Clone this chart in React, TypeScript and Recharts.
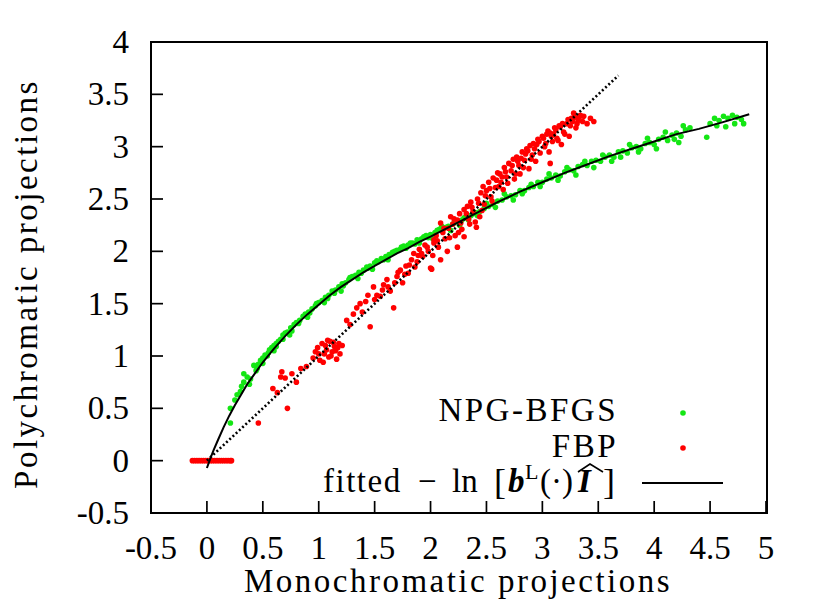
import React from 'react';
import { ScatterChart, Scatter, XAxis, YAxis } from 'recharts';

// axis ticks
const xTicks = [-0.5, 0, 0.5, 1, 1.5, 2, 2.5, 3, 3.5, 4, 4.5, 5];
const yTicks = [-0.5, 0, 0.5, 1, 1.5, 2, 2.5, 3, 3.5, 4];

// NPG-BFGS reconstruction (green)
const npgX = [
  0.21, 0.21, 0.25, 0.27, 0.30, 0.31, 0.33, 0.33, 0.36, 0.38, 0.39, 0.42, 0.44, 0.46, 0.48, 0.50, 0.52, 0.54, 0.56, 0.58,
  0.60, 0.62, 0.64, 0.66, 0.68, 0.70, 0.72, 0.75, 0.78, 0.80, 0.83, 0.86, 0.88, 0.91, 0.94, 0.97, 1.00, 1.03, 1.06, 1.09,
  1.12, 1.15, 1.18, 1.21, 1.24, 1.27, 1.30, 1.33, 1.36, 1.40, 1.43, 1.46, 1.50, 1.53, 1.56, 1.60, 1.63, 1.66, 1.70, 1.73,
  1.76, 1.80, 1.84, 1.88, 1.92, 1.96, 2.00, 2.04, 2.08, 2.12, 2.16, 2.20, 2.24, 2.28, 2.32, 2.36, 2.40, 2.44, 2.48, 2.52,
  2.56, 2.60, 2.64, 2.68, 2.72, 2.76, 2.80, 2.84, 2.88, 2.92, 2.96, 3.00, 3.04, 3.08, 3.12, 3.16, 3.20, 3.24, 3.28, 3.32,
  3.36, 3.40, 3.44, 3.48, 3.52, 3.56, 3.60, 3.64, 3.68, 3.72, 3.76, 3.80, 3.84, 3.88, 3.92, 3.96, 4.00, 4.04, 4.08, 4.12,
  4.16, 4.20, 4.24, 4.28, 4.32, 4.47, 4.50, 4.54, 4.58, 4.62, 4.66, 4.70, 4.74, 4.78, 4.56, 4.64, 4.72, 4.80,
  2.02, 2.10, 2.18, 2.26, 2.34, 2.42, 2.50, 2.58, 2.66, 2.74, 2.82, 2.90, 2.98, 3.06, 3.14, 3.22, 3.30, 3.38, 3.46, 3.54,
  3.62, 3.70, 3.78, 3.86, 3.94, 4.02, 4.10, 4.18, 4.26, 4.22, 0.60, 0.74, 0.90, 1.05, 1.20, 1.35, 1.48, 1.62, 1.78, 1.90,
  0.45, 0.50, 0.55, 0.62, 0.68, 0.76, 0.82, 0.92, 0.98, 1.08, 1.14, 1.22, 1.28, 1.38, 1.44, 1.52, 1.58, 1.68, 1.74, 1.82,
  1.86, 1.94, 1.98, 2.06, 2.14, 2.22, 2.30, 2.38,
];
const npgY = [
  0.36, 0.50, 0.58, 0.63, 0.66, 0.71, 0.75, 0.83, 0.80, 0.73, 0.78, 0.91, 0.86, 0.92, 0.96, 0.98, 1.01, 1.00, 1.06, 1.08,
  1.10, 1.12, 1.14, 1.16, 1.20, 1.22, 1.23, 1.27, 1.30, 1.32, 1.34, 1.38, 1.40, 1.42, 1.45, 1.48, 1.51, 1.53, 1.56, 1.58,
  1.62, 1.63, 1.66, 1.69, 1.70, 1.73, 1.76, 1.77, 1.80, 1.82, 1.85, 1.86, 1.89, 1.90, 1.93, 1.95, 1.97, 1.99, 2.01, 2.02,
  2.05, 2.06, 2.08, 2.11, 2.12, 2.15, 2.16, 2.18, 2.21, 2.22, 2.24, 2.26, 2.29, 2.30, 2.33, 2.34, 2.37, 2.38, 2.41, 2.43,
  2.45, 2.48, 2.49, 2.52, 2.53, 2.54, 2.58, 2.58, 2.61, 2.62, 2.66, 2.66, 2.69, 2.70, 2.73, 2.72, 2.76, 2.78, 2.77, 2.81,
  2.83, 2.82, 2.86, 2.87, 2.86, 2.90, 2.92, 2.90, 2.95, 2.96, 2.94, 2.99, 3.00, 2.98, 3.03, 3.04, 3.02, 3.07, 3.09, 3.06,
  3.11, 3.13, 3.10, 3.16, 3.18, 3.09, 3.22, 3.27, 3.25, 3.29, 3.27, 3.30, 3.28, 3.26, 3.20, 3.19, 3.22, 3.22,
  2.12, 2.24, 2.20, 2.25, 2.30, 2.34, 2.46, 2.42, 2.55, 2.49, 2.55, 2.64, 2.62, 2.74, 2.68, 2.80, 2.73, 2.86, 2.80, 2.92,
  2.86, 2.90, 3.02, 2.95, 3.08, 2.98, 3.14, 3.07, 3.20, 3.04, 1.05, 1.20, 1.37, 1.51, 1.62, 1.74, 1.83, 1.92, 2.03, 2.08,
  0.88, 0.93, 1.03, 1.09, 1.16, 1.24, 1.31, 1.41, 1.50, 1.55, 1.60, 1.67, 1.75, 1.79, 1.84, 1.91, 1.92, 2.00, 2.04, 2.08,
  2.07, 2.14, 2.13, 2.20, 2.23, 2.28, 2.32, 2.36,
];

// FBP reconstruction (red)
const fbpX = [
  -0.13, -0.11, -0.09, -0.07, -0.05, -0.03, -0.01, 0.01, 0.03, 0.05, 0.07, 0.09, 0.11, 0.13, 0.15, 0.17, 0.19, 0.21, 0.22,
  0.46, 0.72, 0.59, 0.63, 0.66, 0.67, 0.70, 0.76, 0.80, 0.84, 0.89, 0.95, 0.97, 0.99, 1.01, 1.03, 1.05, 1.07, 1.09, 1.10,
  1.12, 1.14, 1.16, 1.18, 1.19, 1.21, 1.25, 1.28, 1.34, 1.39, 1.42, 1.46, 1.49, 1.52, 1.55, 1.58, 1.61, 1.64, 1.67, 1.70,
  1.73, 1.75, 1.78, 1.80, 1.83, 1.85, 1.88, 1.90, 1.93, 1.95, 1.98, 2.00, 2.01, 2.03, 2.03, 2.05, 2.07, 2.09, 2.09, 2.11,
  2.13, 2.15, 2.16, 2.18, 2.20, 2.22, 2.24, 2.24, 2.26, 2.28, 2.30, 2.30, 2.33, 2.34, 2.36, 2.38, 2.40, 2.41, 2.42, 2.44,
  2.45, 2.47, 2.48, 2.50, 2.52, 2.54, 2.56, 2.58, 2.60, 2.62, 2.63, 2.65, 2.66, 2.68, 2.70, 2.72, 2.74, 2.75, 2.77, 2.79,
  2.80, 2.82, 2.84, 2.86, 2.88, 2.89, 2.91, 2.92, 2.94, 2.96, 2.98, 3.00, 3.02, 3.04, 3.06, 3.07, 3.07, 3.09, 3.11, 3.13,
  3.15, 3.17, 3.19, 3.22, 3.24, 3.26, 3.28, 3.30, 3.32, 3.34, 3.37, 3.40, 3.43, 3.46,
  1.92, 1.97, 2.02, 2.06, 2.12, 2.17, 2.21, 2.25, 2.27, 2.32, 2.35, 2.37, 2.43, 2.46, 2.49, 2.53, 2.55, 2.59, 2.61, 2.64,
  2.67, 2.69, 2.73, 2.76, 2.78, 2.81, 2.83, 2.85, 2.87, 2.90, 2.93, 2.95, 2.97, 3.01, 3.03, 3.05, 3.08, 3.10, 3.12, 3.14,
  3.16, 3.18, 3.20, 3.23, 3.25, 3.27, 3.29, 3.31, 3.33, 3.36,
  1.00, 1.04, 1.06, 1.08, 1.11, 1.13, 1.15, 1.17,
  1.31, 1.37, 1.44, 1.50, 1.57, 1.62, 1.68, 1.71, 1.77, 1.81, 1.86, 1.89,
];
const fbpY = [
  0, 0, 0, 0, 0, 0, 0, 0, 0, 0, 0, 0, 0, 0, 0, 0, 0, 0, 0,
  0.36, 0.50, 0.69, 0.65, 0.80, 0.85, 0.79, 0.83, 0.75, 0.88, 0.90, 0.98, 1.04, 1.08, 0.96, 1.12, 1.02, 1.06, 0.99, 1.14,
  1.04, 1.09, 0.97, 1.12, 1.02, 1.10, 1.34, 1.30, 1.46, 1.42, 1.52, 1.28, 1.66, 1.58, 1.57, 1.68, 1.73, 1.62, 1.46, 1.76,
  1.82, 1.70, 1.86, 1.79, 1.92, 1.98, 1.90, 2.02, 1.95, 2.06, 2.00, 1.84, 1.83, 2.08, 2.11, 2.15, 2.04, 1.92, 2.27, 2.18,
  2.12, 2.00, 2.22, 2.33, 2.26, 2.15, 2.04, 2.30, 2.36, 2.21, 2.14, 2.40, 2.43, 2.31, 2.47, 2.38, 2.28, 2.23, 2.50, 2.33,
  2.56, 2.62, 2.45, 2.58, 2.66, 2.52, 2.70, 2.61, 2.75, 2.74, 2.66, 2.59, 2.80, 2.71, 2.84, 2.77, 2.88, 2.69, 2.90, 2.82,
  2.74, 2.95, 2.87, 2.98, 2.79, 3.01, 2.92, 3.03, 2.86, 3.07, 2.94, 3.10, 3.00, 3.12, 2.95, 3.13, 2.84, 3.05, 3.18, 3.08,
  3.20, 3.02, 3.14, 3.22, 3.10, 3.27, 3.32, 3.18, 3.25, 3.30, 3.29, 3.22, 3.27, 3.24,
  1.98, 2.04, 1.96, 2.10, 2.22, 2.13, 2.31, 2.18, 2.27, 2.36, 2.26, 2.42, 2.46, 2.39, 2.53, 2.60, 2.48, 2.68, 2.62, 2.71,
  2.76, 2.65, 2.82, 2.74, 2.86, 2.89, 2.80, 2.93, 2.96, 2.88, 2.98, 3.02, 3.05, 3.08, 3.03, 3.15, 3.10, 3.12, 3.16, 3.06,
  3.19, 3.22, 3.12, 3.26, 3.20, 3.24, 3.28, 3.22, 3.28, 3.24,
  1.02, 0.94, 1.10, 1.15, 1.00, 1.13, 1.05, 1.08,
  1.40, 1.50, 1.58, 1.54, 1.63, 1.66, 1.70, 1.80, 1.78, 1.87, 1.85, 1.96,
];

// fitted -ln[b^L(.)I] curve
const fitX = [0, 0.03, 0.06, 0.1, 0.15, 0.2, 0.25, 0.3, 0.36, 0.42, 0.5, 0.6, 0.7, 0.8, 0.9, 1.0, 1.1, 1.2, 1.3, 1.4,
  1.5, 1.6, 1.7, 1.8, 1.9, 2.0, 2.2, 2.4, 2.6, 2.8, 3.0, 3.2, 3.4, 3.6, 3.8, 4.0, 4.2, 4.4, 4.6, 4.85];
const fitY = [-0.07, 0.02, 0.1, 0.2, 0.32, 0.43, 0.53, 0.62, 0.73, 0.82, 0.94, 1.07, 1.19, 1.3, 1.4, 1.49, 1.58, 1.66, 1.73, 1.8,
  1.86, 1.92, 1.98, 2.03, 2.09, 2.14, 2.25, 2.36, 2.47, 2.57, 2.66, 2.75, 2.83, 2.91, 2.98, 3.05, 3.12, 3.17, 3.23, 3.31];

// identity reference (dotted)
const diagX = [0, 3.68];
const diagY = [0, 3.68];

const zip = (xs: number[], ys: number[]) => xs.map((x, i) => ({ x, y: ys[i] }));

const npgData = zip(npgX, npgY);
const fbpData = zip(fbpX, fbpY);
const fitData = zip(fitX, fitY);
const diagData = zip(diagX, diagY);

const FONT = '"Liberation Serif", serif';
const TICK_LEN = 12;

const BottomTick = ({ x, y, payload }: any) => (
  <g>
    <line x1={x} y1={y} x2={x} y2={y - TICK_LEN} stroke="#000" strokeWidth={1.7} />
    <text x={x} y={y + 46} textAnchor="middle" style={{ fontFamily: FONT, fontSize: 33 }} fill="#000">
      {String(payload.value)}
    </text>
  </g>
);

const LeftTick = ({ x, y, payload }: any) => (
  <g>
    <line x1={x} y1={y} x2={x + TICK_LEN} y2={y} stroke="#000" strokeWidth={1.7} />
    <text x={x - 22} y={y + 11} textAnchor="end" style={{ fontFamily: FONT, fontSize: 33 }} fill="#000">
      {String(payload.value)}
    </text>
  </g>
);

const TopTick = ({ x, y }: any) => (
  <line x1={x} y1={y} x2={x} y2={y + TICK_LEN} stroke="#000" strokeWidth={1.7} />
);

const RightTick = ({ x, y }: any) => (
  <line x1={x} y1={y} x2={x - TICK_LEN} y2={y} stroke="#000" strokeWidth={1.7} />
);

const dot = (color: string) => (p: any) => <circle cx={p.cx} cy={p.cy} r={2.8} fill={color} />;
const noDot = () => <g />;

const GREEN = '#14e614';
const RED = '#f00';

export default function App() {
  return (
    <div style={{ position: 'absolute', left: 0, top: 0, width: 829, height: 608, background: '#fff' }}>
      <ScatterChart width={829} height={608} margin={{ top: 42, right: 63, bottom: 0, left: 0 }}>
        <XAxis xAxisId="b" type="number" dataKey="x" domain={[-0.5, 5]} ticks={xTicks} interval={0}
          height={95} tickSize={0} tickMargin={0} tickLine={false} tick={BottomTick} axisLine={false} allowDataOverflow />
        <XAxis xAxisId="t" orientation="top" type="number" dataKey="x" domain={[-0.5, 5]} ticks={xTicks} interval={0}
          height={0} tickSize={0} tickMargin={0} tickLine={false} tick={TopTick} axisLine={false} allowDataOverflow />
        <YAxis yAxisId="l" type="number" dataKey="y" domain={[-0.5, 4]} ticks={yTicks} interval={0}
          width={151} tickSize={0} tickMargin={0} tickLine={false} tick={LeftTick} axisLine={false} allowDataOverflow />
        <YAxis yAxisId="r" orientation="right" type="number" dataKey="y" domain={[-0.5, 4]} ticks={yTicks} interval={0}
          width={0} tickSize={0} tickMargin={0} tickLine={false} tick={RightTick} axisLine={false} allowDataOverflow />
        <Scatter xAxisId="b" yAxisId="l" data={npgData} fill={GREEN} shape={dot(GREEN)} isAnimationActive={false} />
        <Scatter xAxisId="b" yAxisId="l" data={fbpData} fill={RED} shape={dot(RED)} isAnimationActive={false} />
        <Scatter xAxisId="b" yAxisId="l" data={fitData} fill="#000" shape={noDot}
          line={{ stroke: '#000', strokeWidth: 2 }} isAnimationActive={false} />
        <Scatter xAxisId="b" yAxisId="l" data={diagData} fill="#000" shape={noDot}
          line={{ stroke: '#000', strokeWidth: 2.6, strokeDasharray: '2 2.4' }} isAnimationActive={false} />
      </ScatterChart>
      {/* plot frame as a css box */}
      <div style={{ position: 'absolute', left: 150, top: 41, width: 618, height: 473, boxSizing: 'border-box',
        border: '2px solid #000', pointerEvents: 'none' }} />
      <svg width={829} height={608} viewBox="0 0 829 608"
        style={{ position: 'absolute', left: 0, top: 0, pointerEvents: 'none', fontFamily: FONT, fontSize: 33 }}>
        <g fill="#000">
          <text x={458} y={592} textAnchor="middle" letterSpacing={2.5}>Monochromatic projections</text>
          <text x={37} y={284} textAnchor="middle" letterSpacing={2.5} transform="rotate(-90 37 284)">Polychromatic projections</text>
          {/* legend */}
          <text x={618} y={421} textAnchor="end" letterSpacing={2.5}>NPG-BFGS</text>
          <text x={618} y={457} textAnchor="end" letterSpacing={2.5}>FBP</text>
          <text y={492}>
            <tspan x={323} letterSpacing={1.5}>fitted</tspan>
            <tspan x={418}>−</tspan>
            <tspan x={452}>ln</tspan>
            <tspan x={494} style={{ fontSize: 36 }} dy={2}>[</tspan>
            <tspan x={508} dy={-2} fontWeight="bold" fontStyle="italic">b</tspan>
            <tspan x={525} dy={-13} style={{ fontSize: 22 }}>L</tspan>
            <tspan x={540} dy={13}>(·)</tspan>
            <tspan x={578} fontWeight="bold" fontStyle="italic">I</tspan>
            <tspan x={603} style={{ fontSize: 36 }} dy={2}>]</tspan>
          </text>
        </g>
        <circle cx={683} cy={413} r={2.8} fill={GREEN} />
        <circle cx={683} cy={448} r={2.8} fill={RED} />
        <polyline points="578,472 590,464 603,472" fill="none" stroke="#000" strokeWidth={1.6} />
        <line x1={642} y1={483} x2={723} y2={483} stroke="#000" strokeWidth={2} />
      </svg>
    </div>
  );
}
